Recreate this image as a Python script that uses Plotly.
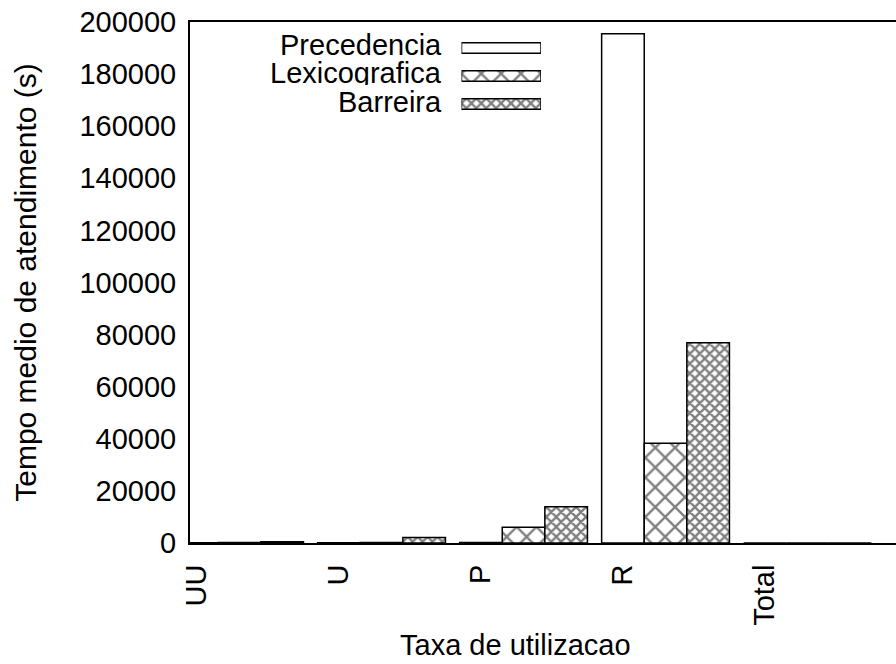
import plotly.graph_objects as go

# Mean service time per utilisation class, one series per ordering policy
categories = ["UU", "U", "P", "R", "Total"]
precedencia = [100, 80, 200, 195500, 0]
lexicografica = [150, 200, 6000, 38300, 0]
barreira = [450, 2100, 13900, 76900, 0]
series_names = ["Precedencia", "Lexicografica", "Barreira"]
y_ticks = list(range(0, 200001, 20000))

FONT = "Liberation Sans"
FS = 29
BAR_W = 0.3

positions = list(range(len(categories)))

styles = [
    dict(shape="", size=10, solidity=0.2),
    dict(shape="x", size=14, solidity=0.3),
    dict(shape="x", size=7, solidity=0.55),
]

fig = go.Figure()


def bar_marker(st):
    return dict(
        color="white",
        line=dict(color="black", width=1.5),
        pattern=dict(shape=st["shape"], size=st["size"], solidity=st["solidity"],
                     fgcolor="black", bgcolor="white", fillmode="overlay"),
    )


for k, (name, vals) in enumerate(zip(series_names, [precedencia, lexicografica, barreira])):
    st = styles[k]
    fig.add_trace(go.Bar(
        x=positions, y=vals, name=name,
        width=BAR_W, offset=(k - 1.5) * BAR_W,
        marker=bar_marker(st),
        showlegend=False,
        xaxis="x", yaxis="y",
    ))
    # key swatch drawn on its own small axes
    fig.add_trace(go.Bar(
        x=[1], y=[k], orientation="h", width=0.38,
        marker=bar_marker(st),
        showlegend=False, hoverinfo="skip",
        xaxis="x2", yaxis="y2",
    ))

W, H = 896, 664
L, R, T, B = 190, 0, 22, 121
pw, ph = W - L - R, H - T - B


def px_x(x):
    return (x - L) / pw


def px_y(y):
    return (H - B - y) / ph


annotations = []
for k, name in enumerate(series_names):
    annotations.append(dict(
        text=name, x=px_x(444), y=px_y(45 + 28.5 * k), xref="paper", yref="paper",
        xanchor="right", yanchor="middle", showarrow=False, height=24, valign="middle",
        font=dict(family=FONT, size=FS, color="black"),
    ))
annotations.append(dict(
    text="Taxa de utilizacao", x=px_x(515), y=px_y(645), xref="paper", yref="paper",
    xanchor="center", yanchor="middle", showarrow=False,
    font=dict(family=FONT, size=FS, color="black"),
))

fig.update_layout(
    width=W, height=H, autosize=False,
    margin=dict(l=L, r=R, t=T, b=B, pad=0),
    paper_bgcolor="white", plot_bgcolor="white",
    barmode="overlay",
    font=dict(family=FONT, size=FS, color="black"),
    xaxis=dict(
        range=[-0.349, 4.623],
        tickvals=[p - BAR_W for p in positions], ticktext=categories,
        tickangle=-90, ticks="outside", ticklen=8, tickcolor="rgba(0,0,0,0)",
        showgrid=False, zeroline=False,
        showline=True, linecolor="black", linewidth=2, mirror=True,
        tickfont=dict(family=FONT, size=FS, color="black"),
    ),
    yaxis=dict(
        range=[0, 200000], tickvals=y_ticks, tickformat="d",
        ticks="outside", ticklen=6, tickcolor="rgba(0,0,0,0)",
        showgrid=False, zeroline=False,
        showline=True, linecolor="black", linewidth=2, mirror=False,
        tickfont=dict(family=FONT, size=FS, color="black"),
        title=dict(text="Tempo medio de atendimento (s)",
                   font=dict(family=FONT, size=30, color="black"), standoff=34),
    ),
    xaxis2=dict(domain=[px_x(461.5), px_x(541)], anchor="y2", range=[0, 1], visible=False),
    yaxis2=dict(domain=[px_y(118), px_y(34)], anchor="x2", range=[2.5, -0.5], visible=False),
    annotations=annotations,
)

fig.write_html("out.html")
